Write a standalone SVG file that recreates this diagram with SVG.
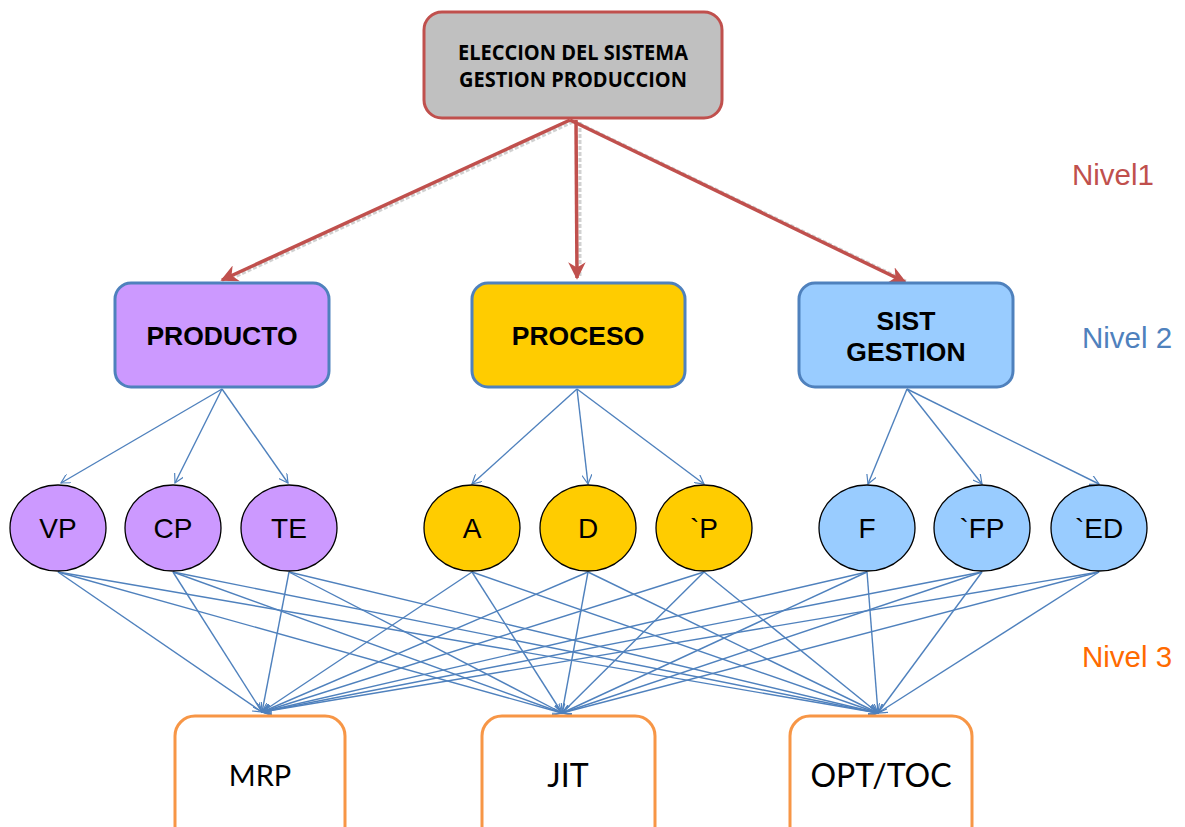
<svg xmlns="http://www.w3.org/2000/svg" width="1185" height="827" viewBox="0 0 1185 827">
<style>
.top{fill:#c0c0c0;stroke:#c0504d;stroke-width:3}
.l2{stroke:#4f81bd;stroke-width:3}
.ell{stroke:#000;stroke-width:1.3}
.l3{fill:#fff;stroke:#f79646;stroke-width:3}
.t1{font-family:"Open Sans","Liberation Sans",sans-serif;font-weight:bold;font-size:20.5px;fill:#000;text-anchor:middle}
.t2{font-family:"Liberation Sans",Arial,sans-serif;font-weight:bold;font-size:26.5px;fill:#000;text-anchor:middle}
.te{font-family:"Liberation Sans",Arial,sans-serif;font-size:28px;fill:#000;text-anchor:middle}
.t3{font-family:Lato,"Open Sans",sans-serif;fill:#000;text-anchor:middle}
.lv{font-family:"Liberation Sans",Arial,sans-serif;font-size:29.5px}
.red{stroke:#c0504d;stroke-width:3.5;fill:none}
.shadow{stroke:#9a9a9a;stroke-width:3;fill:none;opacity:0.45;stroke-dasharray:4 2}
.blue{stroke:#4f81bd;stroke-width:1.4;fill:none}
</style>
<defs>
<marker id="ar" viewBox="0 0 10 10" refX="9" refY="5" markerWidth="5" markerHeight="5" orient="auto" markerUnits="strokeWidth">
<path d="M0,0 L10,5 L0,10 L3,5 Z" fill="#c0504d"/>
</marker>
<marker id="ab" viewBox="0 0 12 12" refX="11" refY="6" markerWidth="10" markerHeight="10" orient="auto" markerUnits="userSpaceOnUse">
<path d="M0,0 L11,6 L0,12" fill="none" stroke="#4f81bd" stroke-width="1.4"/>
</marker>
</defs>

<g id="connectors">
<g id="red-arrows">
<line class="shadow" x1="573" y1="122" x2="228" y2="280"/>
<line class="shadow" x1="580" y1="122" x2="580" y2="276"/>
<line class="shadow" x1="574" y1="121" x2="906" y2="281"/>
<line class="red" x1="570" y1="120" x2="222" y2="280" marker-end="url(#ar)"/>
<line class="red" x1="576" y1="120" x2="577" y2="278" marker-end="url(#ar)"/>
<line class="red" x1="570" y1="120" x2="905" y2="282" marker-end="url(#ar)"/>
</g>
<g id="blue-l2">
<line class="blue" x1="222" y1="389" x2="61" y2="483" marker-end="url(#ab)"/>
<line class="blue" x1="222" y1="389" x2="175" y2="483" marker-end="url(#ab)"/>
<line class="blue" x1="222" y1="389" x2="288" y2="483" marker-end="url(#ab)"/>
<line class="blue" x1="577" y1="389" x2="472" y2="484" marker-end="url(#ab)"/>
<line class="blue" x1="577" y1="389" x2="588" y2="484" marker-end="url(#ab)"/>
<line class="blue" x1="577" y1="389" x2="704" y2="484" marker-end="url(#ab)"/>
<line class="blue" x1="907" y1="389" x2="868" y2="484" marker-end="url(#ab)"/>
<line class="blue" x1="907" y1="389" x2="982" y2="484" marker-end="url(#ab)"/>
<line class="blue" x1="907" y1="389" x2="1099" y2="484" marker-end="url(#ab)"/>
</g>
<g id="blue-l3">
<line class="blue" x1="58" y1="572" x2="262" y2="712" marker-end="url(#ab)"/>
<line class="blue" x1="58" y1="572" x2="562" y2="713" marker-end="url(#ab)"/>
<line class="blue" x1="58" y1="572" x2="878" y2="713" marker-end="url(#ab)"/>
<line class="blue" x1="173" y1="572" x2="262" y2="712" marker-end="url(#ab)"/>
<line class="blue" x1="173" y1="572" x2="562" y2="713" marker-end="url(#ab)"/>
<line class="blue" x1="173" y1="572" x2="878" y2="713" marker-end="url(#ab)"/>
<line class="blue" x1="289" y1="572" x2="262" y2="712" marker-end="url(#ab)"/>
<line class="blue" x1="289" y1="572" x2="562" y2="713" marker-end="url(#ab)"/>
<line class="blue" x1="289" y1="572" x2="878" y2="713" marker-end="url(#ab)"/>
<line class="blue" x1="472" y1="572" x2="262" y2="712" marker-end="url(#ab)"/>
<line class="blue" x1="472" y1="572" x2="562" y2="713" marker-end="url(#ab)"/>
<line class="blue" x1="472" y1="572" x2="878" y2="713" marker-end="url(#ab)"/>
<line class="blue" x1="588" y1="572" x2="262" y2="712" marker-end="url(#ab)"/>
<line class="blue" x1="588" y1="572" x2="562" y2="713" marker-end="url(#ab)"/>
<line class="blue" x1="588" y1="572" x2="878" y2="713" marker-end="url(#ab)"/>
<line class="blue" x1="704" y1="572" x2="262" y2="712" marker-end="url(#ab)"/>
<line class="blue" x1="704" y1="572" x2="562" y2="713" marker-end="url(#ab)"/>
<line class="blue" x1="704" y1="572" x2="878" y2="713" marker-end="url(#ab)"/>
<line class="blue" x1="867" y1="572" x2="262" y2="712" marker-end="url(#ab)"/>
<line class="blue" x1="867" y1="572" x2="562" y2="713" marker-end="url(#ab)"/>
<line class="blue" x1="867" y1="572" x2="878" y2="713" marker-end="url(#ab)"/>
<line class="blue" x1="982" y1="572" x2="262" y2="712" marker-end="url(#ab)"/>
<line class="blue" x1="982" y1="572" x2="562" y2="713" marker-end="url(#ab)"/>
<line class="blue" x1="982" y1="572" x2="878" y2="713" marker-end="url(#ab)"/>
<line class="blue" x1="1099" y1="572" x2="262" y2="712" marker-end="url(#ab)"/>
<line class="blue" x1="1099" y1="572" x2="562" y2="713" marker-end="url(#ab)"/>
<line class="blue" x1="1099" y1="572" x2="878" y2="713" marker-end="url(#ab)"/>
</g>
</g>

<g id="top">
<rect class="top" x="424" y="12" width="298" height="106" rx="18"/>
<text class="t1" x="573" y="60" textLength="230" lengthAdjust="spacingAndGlyphs">ELECCION DEL SISTEMA</text>
<text class="t1" x="573" y="87" textLength="228" lengthAdjust="spacingAndGlyphs">GESTION PRODUCCION</text>
</g>

<g id="producto">
<rect class="l2" x="115" y="283" width="214" height="104" rx="16" fill="#cc99ff"/>
<text class="t2" x="222" y="345">PRODUCTO</text>
</g>
<g id="proceso">
<rect class="l2" x="472" y="283" width="213" height="104" rx="16" fill="#ffcc00"/>
<text class="t2" x="578" y="345">PROCESO</text>
</g>
<g id="sist">
<rect class="l2" x="799" y="283" width="214" height="104" rx="16" fill="#99ccff"/>
<text class="t2" x="906" y="330">SIST</text>
<text class="t2" x="906" y="361">GESTION</text>
</g>

<g id="vp"><ellipse class="ell" cx="58" cy="528" rx="48" ry="43" fill="#cc99ff"/><text class="te" x="58" y="538">VP</text></g>
<g id="cp"><ellipse class="ell" cx="173" cy="528" rx="48" ry="43" fill="#cc99ff"/><text class="te" x="173" y="538">CP</text></g>
<g id="te"><ellipse class="ell" cx="289" cy="528" rx="48" ry="43" fill="#cc99ff"/><text class="te" x="289" y="538">TE</text></g>
<g id="a"><ellipse class="ell" cx="472" cy="528" rx="48" ry="43" fill="#ffcc00"/><text class="te" x="472" y="538">A</text></g>
<g id="d"><ellipse class="ell" cx="588" cy="528" rx="48" ry="43" fill="#ffcc00"/><text class="te" x="588" y="538">D</text></g>
<g id="p"><ellipse class="ell" cx="704" cy="528" rx="48" ry="43" fill="#ffcc00"/><text class="te" x="704" y="538">`P</text></g>
<g id="f"><ellipse class="ell" cx="867" cy="528" rx="48" ry="43" fill="#99ccff"/><text class="te" x="867" y="538">F</text></g>
<g id="fp"><ellipse class="ell" cx="982" cy="528" rx="48" ry="43" fill="#99ccff"/><text class="te" x="982" y="538">`FP</text></g>
<g id="ed"><ellipse class="ell" cx="1099" cy="528" rx="48" ry="43" fill="#99ccff"/><text class="te" x="1099" y="538">`ED</text></g>

<g id="mrp"><rect class="l3" x="175" y="716" width="170" height="130" rx="20"/><text class="t3" x="260" y="786" font-size="29">MRP</text></g>
<g id="jit"><rect class="l3" x="482" y="716" width="173" height="130" rx="20"/><text class="t3" x="568" y="787" font-size="32">JIT</text></g>
<g id="opt"><rect class="l3" x="790" y="716" width="182" height="130" rx="20"/><text class="t3" x="881" y="787" font-size="32">OPT/TOC</text></g>

<g id="levels">
<text class="lv" x="1072" y="185" fill="#c0504d">Nivel1</text>
<text class="lv" x="1082" y="348" fill="#4f81bd">Nivel 2</text>
<text class="lv" x="1082" y="667" fill="#ff6a00">Nivel 3</text>
</g>
</svg>
